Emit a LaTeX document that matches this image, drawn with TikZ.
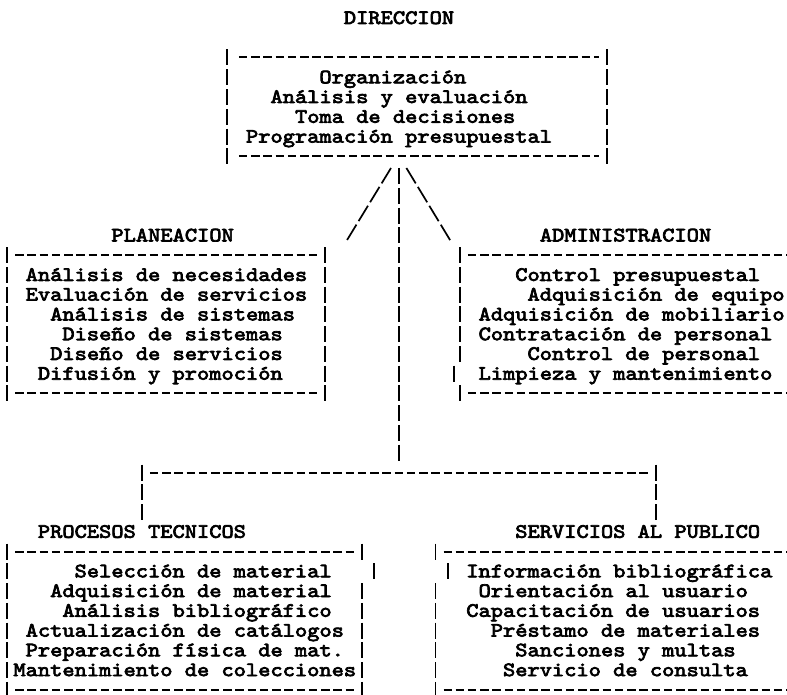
\documentclass[tikz,border=0pt]{standalone}
\usepackage{fontspec}
\newfontfamily\typewriter{lmmono10-regular.otf}[FakeStretch=1.143, FakeBold=3.5]
\tikzset{
  typetext/.style={font=\typewriter\fontsize{20.4}{19.76}\selectfont, inner sep=0pt, anchor=base west, text height=12pt, text depth=3pt},
  typedash/.style={line width=2pt, dash pattern=on 8.5pt off 3.74pt},
  typebar/.style={line width=1.8pt, dash pattern=on 16pt off 3.76pt},
  typeslash/.style={line width=1.7pt, dash pattern=on 18pt off 4.1pt}
}
\begin{document}
\begin{tikzpicture}[x=1pt,y=1pt,yscale=-1,xscale=1]
\useasboundingbox (0,0) rectangle (787,695);
%Text: titles
\node[typetext] (dirTitle) at (343.7,24) {DIRECCION};
\node[typetext] (planTitle) at (111.2,241.4) {PLANEACION};
\node[typetext] (admTitle) at (539.6,241.4) {ADMINISTRACION};
\node[typetext] (procTitle) at (37.7,537.8) {PROCESOS TECNICOS};
\node[typetext] (servTitle) at (515.1,537.8) {SERVICIOS AL PUBLICO};
%Shape: Box DIRECCION
\draw[typedash] (238.8,57.5) -- (598.9,57.5);
\draw[typedash] (238.8,156.3) -- (598.9,156.3);
\draw[typebar] (227.3,49.5) -- (227.3,164.3);
\draw[typebar] (606.8,49.5) -- (606.8,164.3);
\node[typetext] (dirA) at (319.2,83.3) {Organización};
\node[typetext] (dirB) at (270.3,103) {Análisis y evaluación};
\node[typetext] (dirC) at (294.8,122.8) {Toma de decisiones};
\node[typetext] (dirD) at (245.8,142.6) {Programación presupuestal};
%Shape: Box PLANEACION
\draw[typedash] (15.1,255.1) -- (317.4,255.1);
\draw[typedash] (15.1,393.4) -- (317.4,393.4);
\draw[typebar] (7,247.1) -- (7,401.4);
\draw[typebar] (325.2,247.1) -- (325.2,401.4);
\node[typetext] (planA) at (25.5,280.9) {Análisis de necesidades};
\node[typetext] (planB) at (25.5,300.6) {Evaluación de servicios};
\node[typetext] (planC) at (50,320.4) {Análisis de sistemas};
\node[typetext] (planD) at (62.2,340.2) {Diseño de sistemas};
\node[typetext] (planE) at (50,359.9) {Diseño de servicios};
\node[typetext] (planF) at (37.7,379.7) {Difusión y promoción};
%Shape: Box ADMINISTRACION
\draw[typedash] (467.9,255.1) -- (790,255.1);
\draw[typedash] (467.9,393.4) -- (790,393.4);
\draw[typebar] (459.9,247.1) -- (459.9,361.9);
\draw[typebar] (453.8,365.7) -- (453.8,381.7);
\draw[typebar] (459.9,385.4) -- (459.9,401.4);
\node[typetext] (admA) at (515.1,280.9) {Control presupuestal};
\node[typetext] (admB) at (527.3,300.6) {Adquisición de equipo};
\node[typetext] (admC) at (478.4,320.4) {Adquisición de mobiliario};
\node[typetext] (admD) at (478.4,340.2) {Contratación de personal};
\node[typetext] (admE) at (527.3,359.9) {Control de personal};
\node[typetext] (admF) at (478.4,379.7) {Limpieza y mantenimiento};
%Shape: Box PROCESOS TECNICOS
\draw[typedash] (15.1,551.5) -- (354,551.5);
\draw[typedash] (15.1,689.8) -- (354,689.8);
\draw[typebar] (7,543.5) -- (7,697.8);
\draw[typebar] (362,543.5) -- (362,559.5);
\draw[typebar] (374.2,563.3) -- (374.2,579.3);
\draw[typebar] (362,583) -- (362,697.8);
\node[typetext] (procA) at (74.4,577.3) {Selección de material};
\node[typetext] (procB) at (50,597) {Adquisición de material};
\node[typetext] (procC) at (62.2,616.8) {Análisis bibliográfico};
\node[typetext] (procD) at (25.5,636.6) {Actualización de catálogos};
\node[typetext] (procE) at (25.5,656.3) {Preparación física de mat.};
\node[typetext] (procF) at (13.2,676.1) {Mantenimiento de colecciones};
%Shape: Box SERVICIOS AL PUBLICO
\draw[typedash] (443.5,551.5) -- (790,551.5);
\draw[typedash] (443.5,689.8) -- (790,689.8);
\draw[typebar] (435.4,543.5) -- (435.4,559.5);
\draw[typebar] (447.6,563.3) -- (447.6,579.3);
\draw[typebar] (435.4,583) -- (435.4,697.8);
\node[typetext] (servA) at (466.1,577.3) {Información bibliográfica};
\node[typetext] (servB) at (478.4,597) {Orientación al usuario};
\node[typetext] (servC) at (466.1,616.8) {Capacitación de usuarios};
\node[typetext] (servD) at (490.6,636.6) {Préstamo de materiales};
\node[typetext] (servE) at (515.1,656.3) {Sanciones y multas};
\node[typetext] (servF) at (502.8,676.1) {Servicio de consulta};
%Straight Lines: connectors
\coordinate (dirLeft) at (391,168);
\coordinate (dirMid) at (398.7,168);
\coordinate (dirRight) at (406.4,168);
\coordinate (planEnd) at (345,243.4);
\coordinate (admEnd) at (452.1,243.4);
\coordinate (hubTop) at (398.7,460.7);
\coordinate (hubLeft) at (149.8,472.5);
\coordinate (hubRight) at (647.8,472.5);
\coordinate (procTop) at (141.6,464.5);
\coordinate (procEnd) at (141.6,520);
\coordinate (servTop) at (655.7,464.5);
\coordinate (servEnd) at (655.7,520);
\draw[typeslash] (dirLeft) -- (planEnd);
\draw[typeslash] (dirRight) -- (admEnd);
\draw[typebar] (dirMid) -- (hubTop);
\draw[typedash] (hubLeft) -- (hubRight);
\draw[typebar] (procTop) -- (procEnd);
\draw[typebar] (servTop) -- (servEnd);
\end{tikzpicture}
\end{document}
